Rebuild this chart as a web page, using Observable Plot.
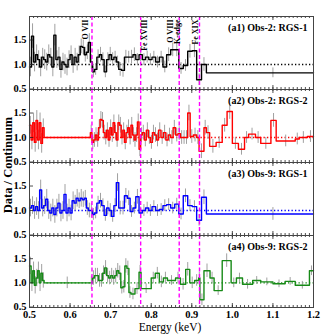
<!DOCTYPE html>
<html><head><meta charset="utf-8">
<script src="https://cdn.jsdelivr.net/npm/d3@7"></script>
<script src="https://cdn.jsdelivr.net/npm/@observablehq/plot@0.6"></script>
<style>
body{margin:0;background:#fff;}
#chart{position:relative;width:331px;height:334px;}
#chart svg{display:block;}
#ylab{position:absolute;left:8px;top:165px;transform:translate(-50%,-50%) rotate(-90deg);font:bold 12.5px "Liberation Serif",serif;white-space:nowrap;color:#000;}
#xlab{position:absolute;left:170px;top:327px;transform:translate(-50%,-50%);font:11.5px "Liberation Serif",serif;white-space:nowrap;color:#000;}
</style></head><body>
<div id="chart"></div>
<script>
const xTicks = [0.5,0.6,0.7,0.8,0.9,1.0,1.1,1.2];
const yTicks = [0.5,1.0,1.5];
const lineE = [0.654,0.774,0.869,0.919];
const lineLabels = ["O VII","Fe XVIII","O VIII\nK-edge","Fe XIX"];
const panelNames = ["(a1) Obs-2: RGS-1","(a2) Obs-2: RGS-2","(a3) Obs-9: RGS-1","(a4) Obs-9: RGS-2"];
const panelColors = ["#000000","#ff0000","#0000ff","#178a17"];
const yLabel = "Data / Continuum";
const xLabel = "Energy (keV)";

// RGS-1 bin edges (Obs-2 and Obs-9)
const rgs1Edges = [0.500,0.505,0.510,0.515,0.520,0.525,0.530,0.535,0.540,0.545,0.550,0.555,0.560,0.565,0.570,0.575,0.580,0.585,0.590,0.595,0.600,0.605,0.610,0.615,0.620,0.625,0.630,0.635,0.640,0.645,0.650,0.655,0.660,0.666,0.672,0.678,0.684,0.690,0.696,0.702,0.708,0.714,0.720,0.727,0.734,0.741,0.748,0.755,0.762,0.770,0.778,0.786,0.794,0.802,0.811,0.820,0.829,0.838,0.848,0.858,0.868,0.879,0.890,0.901,0.912,0.924,0.936,1.000,1.200];

const a1Values = [0.95,1.58,1.05,1.20,1.10,0.95,1.15,1.10,1.05,1.20,
1.15,0.95,1.60,1.10,1.15,0.90,1.05,1.00,0.95,1.10,
1.20,1.00,1.15,1.05,1.20,1.37,1.35,1.20,1.25,1.45,
1.05,0.85,0.90,1.15,1.20,1.10,0.85,1.10,1.20,1.10,
1.15,1.05,0.90,0.88,1.15,1.15,1.15,1.20,1.10,1.20,
1.10,1.15,1.10,1.15,1.05,1.15,0.95,1.20,1.30,1.30,
0.92,0.98,1.27,1.28,0.69,1.00,0.83,0.83];
const a1Errors = [0.20,0.25,0.20,0.20,0.18,0.20,0.18,0.20,0.18,0.20,
0.18,0.20,0.22,0.18,0.20,0.18,0.18,0.20,0.18,0.18,
0.18,0.18,0.18,0.18,0.18,0.15,0.15,0.15,0.15,0.18,
0.15,0.12,0.12,0.15,0.15,0.14,0.12,0.14,0.15,0.14,
0.12,0.12,0.14,0.14,0.14,0.12,0.14,0.14,0.12,0.14,
0.12,0.12,0.12,0.12,0.12,0.12,0.12,0.14,0.14,0.14,
0.12,0.12,0.14,0.14,0.12,0.14,0,0.10];

const a2Edges = [0.500,0.504,0.508,0.512,0.516,0.520,0.524,0.528,0.532,0.536,
0.650,0.654,0.658,0.662,0.666,0.670,0.674,0.678,0.682,0.686,
0.690,0.694,0.698,0.702,0.706,0.710,0.714,0.718,0.722,0.726,
0.730,0.734,0.738,0.742,0.746,0.750,0.754,0.758,0.762,0.766,
0.770,0.774,0.778,0.783,0.788,0.793,0.798,0.803,0.808,0.813,
0.818,0.824,0.830,0.836,0.842,0.848,0.854,0.860,0.866,0.872,
0.878,0.884,0.890,0.896,0.904,0.912,0.918,0.930,0.936,0.944,
0.960,0.975,0.987,1.000,1.015,1.030,1.040,1.057,1.070,1.095,
1.108,1.155,1.165,1.185,1.200];
const a2Values = [1.25,0.95,1.30,0.90,1.35,0.95,1.30,0.88,1.20,
1.00,
1.10,0.90,0.95,1.05,0.95,1.20,1.37,1.35,1.10,1.00,
1.15,0.95,1.20,1.05,1.30,1.10,0.95,1.30,1.25,1.00,
1.15,0.90,1.10,1.20,1.00,1.25,1.05,0.95,1.05,1.32,
0.76,1.05,1.10,0.95,1.15,1.00,0.90,1.10,1.05,0.95,
1.15,1.00,1.10,0.95,1.05,1.00,1.20,1.05,1.08,1.00,
1.00,1.00,1.50,1.02,1.05,1.00,0.72,1.20,1.10,0.82,
0.90,1.25,1.53,0.88,0.76,1.00,1.07,1.00,0.88,1.35,
0.93,0.97,1.00,1.02];
const a2Errors = [0.18,0.20,0.20,0.20,0.20,0.20,0.20,0.20,0.18,
0,
0.15,0.15,0.15,0.15,0.15,0.16,0.16,0.16,0.15,0.15,
0.15,0.15,0.16,0.15,0.16,0.15,0.15,0.16,0.16,0.15,
0.15,0.15,0.15,0.16,0.15,0.16,0.15,0.15,0.15,0.16,
0.15,0.15,0.15,0.14,0.15,0.14,0.14,0.15,0.15,0.14,
0.15,0.14,0.15,0.14,0.14,0.14,0.15,0.14,0.14,0.14,
0.14,0.14,0.16,0.14,0.14,0.14,0.15,0.15,0.14,0.14,
0.12,0.14,0.16,0.12,0.12,0.12,0.12,0.12,0.12,0.14,
0.12,0.12,0.12,0.12];

const a3Values = [1.05,1.10,1.00,1.08,1.00,1.42,1.05,1.10,1.23,1.00,
0.95,1.05,0.92,1.05,1.15,0.95,1.00,1.33,0.95,1.05,
0.95,1.20,1.15,1.25,1.20,1.25,1.22,1.25,1.05,1.00,
1.00,0.92,0.95,1.15,1.20,1.10,0.90,1.05,1.00,0.88,
1.10,1.57,1.05,1.05,1.30,1.25,0.98,1.05,1.28,0.95,
1.00,1.05,1.00,1.08,1.00,1.02,1.10,1.12,1.05,1.13,
0.93,1.30,1.10,1.08,0.80,1.27,0.93,0.93];
const a3Errors = [0.18,0.18,0.18,0.18,0.18,0.20,0.18,0.18,0.20,0.18,
0.18,0.18,0.18,0.18,0.18,0.18,0.18,0.20,0.18,0.18,
0.16,0.18,0.16,0.18,0.16,0.18,0.16,0.16,0.15,0.15,
0.15,0.12,0.12,0.14,0.15,0.14,0.12,0.14,0.14,0.12,
0.14,0.18,0.14,0.14,0.15,0.15,0.12,0.12,0.15,0.12,
0.12,0.12,0.12,0.12,0.12,0.12,0.12,0.12,0.12,0.12,
0.12,0.14,0.12,0.12,0.12,0.15,0,0.13];

const a4Edges = [0.500,0.504,0.508,0.512,0.516,0.520,0.524,0.528,0.532,0.536,
0.650,0.655,0.660,0.665,0.670,0.675,0.680,0.685,0.690,0.695,
0.700,0.705,0.710,0.715,0.720,0.725,0.730,0.735,0.740,0.745,
0.750,0.760,0.770,0.775,0.800,0.810,0.820,0.830,0.840,0.860,
0.872,0.885,0.895,0.907,0.917,0.920,0.930,0.945,0.955,0.975,
0.997,1.010,1.025,1.050,1.070,1.100,1.130,1.155,1.190,1.200];
const a4Values = [1.35,1.00,1.25,0.95,1.10,1.25,1.00,1.20,1.05,
1.00,
1.00,1.10,1.15,1.15,1.05,1.05,1.20,1.31,1.15,1.10,
1.15,1.10,1.15,1.25,1.20,0.90,0.92,1.35,1.30,0.80,
0.77,0.88,1.22,0.88,1.10,1.20,1.02,1.10,1.05,1.10,
0.97,1.28,1.00,1.05,1.10,0.65,1.25,1.10,0.84,1.46,
1.00,1.10,0.97,1.05,1.02,0.98,1.03,0.95,1.25];
const a4Errors = [0.18,0.18,0.18,0.18,0.18,0.18,0.18,0.18,0.16,
0.12,
0.14,0.15,0.15,0.15,0.14,0.14,0.15,0.15,0.15,0.14,
0.15,0.15,0.15,0.15,0.15,0.13,0.13,0.15,0.15,0.12,
0.12,0.12,0.14,0.10,0.12,0.12,0.12,0.12,0.10,0.12,
0.12,0.14,0.12,0.12,0.12,0.12,0.14,0.12,0.10,0.14,
0.10,0.10,0.10,0.08,0.08,0.08,0.08,0.08,0.10];

const panels = [
  {edges: rgs1Edges, values: a1Values, errors: a1Errors},
  {edges: a2Edges, values: a2Values, errors: a2Errors},
  {edges: rgs1Edges, values: a3Values, errors: a3Errors},
  {edges: a4Edges, values: a4Values, errors: a4Errors}
];

const W = 331, ML = 29, MR = 18;
const heights = [89, 73, 73, 99];
const mTops = [16, 0, 0, 0];
const mBots = [0, 0, 0, 27];
const minorX = d3.range(50, 121).map(i => i / 100);
const labelDx = [-6, 4, -5, -4];
const fmt = d3.format(".1f");
const chart = document.getElementById("chart");

panels.forEach((p, k) => {
  const color = panelColors[k];
  const H = heights[k], mt = mTops[k], mb = mBots[k];
  const ph = H - mt - mb, pw = W - ML - MR;
  const n = Math.min(p.values.length, p.edges.length - 1);
  const bins = d3.range(n).map(i => ({x1: p.edges[i], x2: p.edges[i + 1], v: p.values[i], e: p.errors[i] || 0}));
  const steps = bins.map(b => ({x: b.x1, y: b.v}));
  steps.push({x: bins[n - 1].x2, y: bins[n - 1].v});
  const tickStyle = {stroke: "#222", strokeWidth: 0.8};
  const marks = [
    Plot.ruleY([1], {stroke: color, strokeWidth: 1.3, strokeDasharray: "1.3,2.2"}),
    Plot.ruleX(bins.filter(b => b.e > 0), {x: b => (b.x1 + b.x2) / 2, y1: b => b.v - b.e, y2: b => b.v + b.e, stroke: "#a0a0a0", strokeWidth: 1}),
    Plot.line(steps, {x: "x", y: "y", curve: "step-after", stroke: color, strokeWidth: 1.4}),
    Plot.ruleX(lineE, {stroke: "#ff00ff", strokeWidth: 1.4, strokeDasharray: "4,2.5"}),
    Plot.ruleX(minorX, {insetBottom: ph - 2, ...tickStyle}),
    Plot.ruleX(minorX, {insetTop: ph - 2, ...tickStyle}),
    Plot.ruleX(xTicks, {insetBottom: ph - 4, ...tickStyle}),
    Plot.ruleX(xTicks, {insetTop: ph - 4, ...tickStyle}),
    Plot.ruleY(yTicks, {insetRight: pw - 4, ...tickStyle}),
    Plot.frame({stroke: "#444", strokeWidth: 1}),
    Plot.text([panelNames[k]], {frameAnchor: "top-right", dx: -6, dy: 11, lineAnchor: "middle", textAnchor: "end", fontSize: 10, fontWeight: "bold", fill: "#000", ariaLabel: "legend"})
  ];
  if (k === 0) {
    lineLabels.forEach((lab, i) => {
      marks.push(Plot.text([i], {x: j => lineE[j], text: j => lineLabels[j], frameAnchor: "top", rotate: -90, textAnchor: "end", lineAnchor: "middle", lineHeight: 0.85, dy: 3, dx: labelDx[i], fontSize: 8, fontWeight: "bold", fill: "#000"}));
    });
  }
  const svg = Plot.plot({
    width: W, height: H,
    marginLeft: ML, marginRight: MR, marginTop: mt, marginBottom: mb,
    style: {fontFamily: '"Liberation Serif", serif', fontSize: "10.5px", fontWeight: "bold", background: "transparent", color: "#000", overflow: "visible"},
    x: {domain: [0.5, 1.2], ticks: xTicks, tickFormat: fmt, tickSize: 0, tickPadding: 3, label: null, axis: k === 3 ? "bottom" : null},
    y: {domain: [0.49, 1.98], ticks: yTicks, tickFormat: fmt, tickSize: 0, tickPadding: 3, label: null},
    marks
  });
  chart.appendChild(svg);
  const t = svg.querySelector('g[aria-label="legend"] text');
  if (t) {
    const b = t.getBBox();
    const r = document.createElementNS("http://www.w3.org/2000/svg", "rect");
    r.setAttribute("x", b.x - 3);
    r.setAttribute("y", b.y - 1.5);
    r.setAttribute("width", b.width + 6);
    r.setAttribute("height", b.height + 3);
    r.setAttribute("fill", "#fff");
    r.setAttribute("stroke", "#555");
    r.setAttribute("stroke-width", 1.3);
    if (t.getAttribute("transform")) r.setAttribute("transform", t.getAttribute("transform"));
    t.parentNode.insertBefore(r, t);
  }
});

const yl = document.createElement("div");
yl.id = "ylab"; yl.textContent = yLabel; chart.appendChild(yl);
const xl = document.createElement("div");
xl.id = "xlab"; xl.textContent = xLabel; chart.appendChild(xl);
</script>
</body></html>
